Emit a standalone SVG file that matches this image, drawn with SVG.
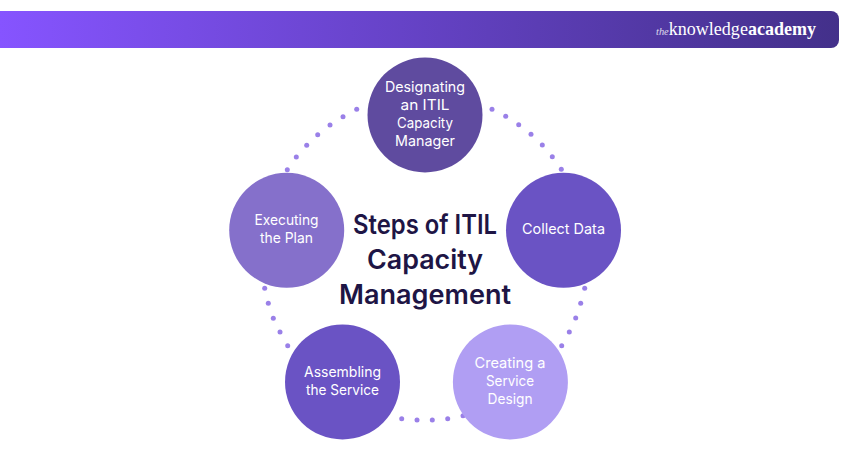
<svg xmlns="http://www.w3.org/2000/svg" width="850" height="450" viewBox="0 0 850 450">
<style>
.n{font-family:"Inter","Noto Sans",sans-serif;font-size:14.5px;fill:#fff;text-anchor:middle}
.t{font-family:"Inter","Noto Sans",sans-serif;font-size:26.5px;font-weight:600;fill:#1e1545;text-anchor:middle}
.l{font-family:"Liberation Serif",serif;fill:#fff}
.d{fill:#9a80e8}
</style>
<defs><linearGradient id="g" x1="0" y1="0" x2="1" y2="0"><stop offset="0" stop-color="#8654ff"/><stop offset="1" stop-color="#43308a"/></linearGradient></defs>
<g id="banner">
<path d="M0 11H831a8 8 0 0 1 8 8V40a8 8 0 0 1-8 8H0Z" fill="url(#g)"/>
<text class="l" x="656" y="35" font-size="19" textLength="160" lengthAdjust="spacingAndGlyphs"><tspan font-size="11" font-style="italic" opacity=".8">the</tspan><tspan>knowledge</tspan><tspan font-weight="700">academy</tspan></text>
</g>
<g id="connectors" class="d">
<circle cx="356.7" cy="109.3" r="2.5"/><circle cx="343" cy="116.7" r="2.5"/><circle cx="330" cy="125" r="2.5"/><circle cx="317.7" cy="134.7" r="2.5"/><circle cx="306.7" cy="145.3" r="2.5"/><circle cx="296.3" cy="157" r="2.5"/><circle cx="287.3" cy="169.7" r="2.5"/>
<circle cx="492" cy="109.3" r="2.5"/><circle cx="505.7" cy="116.3" r="2.5"/><circle cx="518.7" cy="124.7" r="2.5"/><circle cx="531" cy="134.3" r="2.5"/><circle cx="542.3" cy="145" r="2.5"/><circle cx="552.3" cy="156.7" r="2.5"/><circle cx="561.3" cy="169.3" r="2.5"/>
<circle cx="264.7" cy="288.3" r="2.5"/><circle cx="268.3" cy="303.3" r="2.5"/><circle cx="273.3" cy="318.3" r="2.5"/><circle cx="280" cy="332" r="2.5"/><circle cx="287.7" cy="345.7" r="2.5"/>
<circle cx="584.7" cy="288.3" r="2.5"/><circle cx="580.7" cy="303.3" r="2.5"/><circle cx="575.7" cy="318" r="2.5"/><circle cx="569.3" cy="332" r="2.5"/><circle cx="561.7" cy="345.7" r="2.5"/>
<circle cx="401.7" cy="418.7" r="2.5"/><circle cx="417" cy="420" r="2.5"/><circle cx="432.3" cy="420" r="2.5"/><circle cx="447.7" cy="418.7" r="2.5"/><circle cx="463" cy="415.7" r="2.5"/>
</g>
<g id="node-designating"><circle cx="425" cy="115" r="57.5" fill="#5f4b9f"/>
<text class="n" x="425" y="92" textLength="80" lengthAdjust="spacingAndGlyphs">Designating</text><text class="n" x="425" y="110" textLength="49" lengthAdjust="spacingAndGlyphs">an ITIL</text><text class="n" x="425" y="128" textLength="56" lengthAdjust="spacingAndGlyphs">Capacity</text><text class="n" x="425" y="146" textLength="60" lengthAdjust="spacingAndGlyphs">Manager</text></g>
<g id="node-collect"><circle cx="563.5" cy="230.3" r="57.5" fill="#6a53c4"/>
<text class="n" x="563.5" y="234" textLength="83" lengthAdjust="spacingAndGlyphs">Collect Data</text></g>
<g id="node-creating"><circle cx="510.4" cy="382" r="57.5" fill="#b09ef3"/>
<text class="n" x="510" y="368" textLength="71" lengthAdjust="spacingAndGlyphs">Creating a</text><text class="n" x="510" y="386" textLength="48" lengthAdjust="spacingAndGlyphs">Service</text><text class="n" x="510" y="404" textLength="45" lengthAdjust="spacingAndGlyphs">Design</text></g>
<g id="node-assembling"><circle cx="342.5" cy="382" r="57.5" fill="#6a53c4"/>
<text class="n" x="342.5" y="377" textLength="77" lengthAdjust="spacingAndGlyphs">Assembling</text><text class="n" x="342.5" y="395" textLength="73" lengthAdjust="spacingAndGlyphs">the Service</text></g>
<g id="node-executing"><circle cx="286.7" cy="230.3" r="57.5" fill="#8570cb"/>
<text class="n" x="286.5" y="225" textLength="64" lengthAdjust="spacingAndGlyphs">Executing</text><text class="n" x="286.5" y="243" textLength="53" lengthAdjust="spacingAndGlyphs">the Plan</text></g>
<g id="title"><text class="t" x="425" y="234" textLength="144" lengthAdjust="spacingAndGlyphs">Steps of ITIL</text><text class="t" x="425" y="269" textLength="116" lengthAdjust="spacingAndGlyphs">Capacity</text><text class="t" x="425" y="304" textLength="172" lengthAdjust="spacingAndGlyphs">Management</text></g>
</svg>
